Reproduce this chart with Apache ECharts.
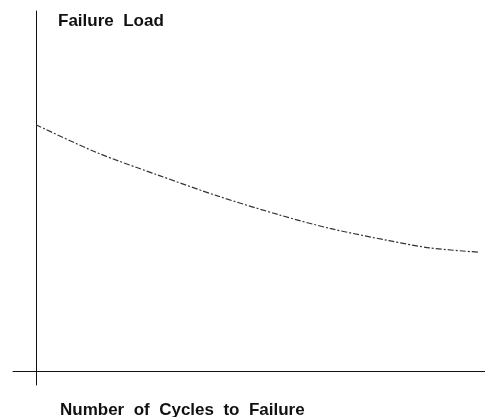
<!DOCTYPE html>
<html>
<head>
<meta charset="utf-8">
<script src="https://cdn.jsdelivr.net/npm/echarts@6/dist/echarts.min.js"></script>
<style>
  html, body { margin: 0; padding: 0; background: #fff; }
  #chart { width: 485px; height: 417px; }
</style>
</head>
<body>
<div id="chart"></div>
<script>
// cycles (arbitrary units, no ticks on the original)
const cycles = [0, 1.37, 2.81, 4.09, 5.52, 6.65, 7.99, 8.91, 10.0]
// failure load (arbitrary units)
const failureLoad = [6.84, 6.07, 5.42, 4.87, 4.33, 3.96, 3.62, 3.42, 3.30]
const yTitle = 'Failure  Load'
const xTitle = 'Number  of  Cycles  to  Failure'

const chart = echarts.init(document.getElementById('chart'))

const textStyle = {
  fontFamily: 'Liberation Sans, Arial, sans-serif',
  fontSize: 17,
  fontWeight: 'bold',
  color: '#111'
}

const option = {
  animation: false,
  title: [
    { text: yTitle, left: 53, top: 8, textStyle: textStyle },
    { text: xTitle, left: 55, top: 397, textStyle: textStyle }
  ],
  grid: { left: 13, right: 0, top: 11, bottom: 32 },
  xAxis: {
    type: 'value',
    min: -0.52,
    max: 10.16,
    axisLine: { show: true, onZero: true, lineStyle: { color: '#111', width: 1 } },
    axisTick: { show: false },
    axisLabel: { show: false },
    splitLine: { show: false }
  },
  yAxis: {
    type: 'value',
    min: -0.39,
    max: 10,
    axisLine: { show: true, onZero: true, lineStyle: { color: '#111', width: 1 } },
    axisTick: { show: false },
    axisLabel: { show: false },
    splitLine: { show: false }
  },
  series: [
    {
      type: 'line',
      data: cycles.map((c, i) => [c, failureLoad[i]]),
      smooth: 0.3,
      showSymbol: false,
      lineStyle: { color: '#333', width: 1.2, type: [6, 2, 2, 2] }
    }
  ]
}

chart.setOption(option)
</script>
</body>
</html>
